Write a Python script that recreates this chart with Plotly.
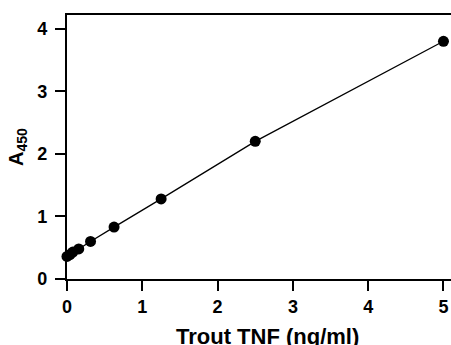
import plotly.graph_objects as go

conc = [0, 0.039, 0.078, 0.156, 0.3125, 0.625, 1.25, 2.5, 5]
a450 = [0.36, 0.39, 0.43, 0.48, 0.60, 0.83, 1.28, 2.20, 3.80]
x_ticks = [0, 1, 2, 3, 4, 5]
y_ticks = [0, 1, 2, 3, 4]
x_title = "Trout TNF (ng/ml)"

fam = "Liberation Sans"
tickfont = dict(family=fam, size=18, color="black", weight=700)
fig = go.Figure()
fig.add_trace(go.Scatter(
    x=conc, y=a450, mode="lines+markers",
    line=dict(color="black", width=1.3),
    marker=dict(color="black", size=11),
    cliponaxis=False, showlegend=False,
))
fig.update_layout(
    width=451, height=345,
    margin=dict(l=67, r=0, t=15, b=66),
    plot_bgcolor="white", paper_bgcolor="white",
    font=dict(family=fam, size=17, color="black"),
    xaxis=dict(range=[0, 5.1], tickvals=x_ticks,
               ticks="outside", ticklen=10, tickwidth=2, automargin=False,
               tickcolor="black", showline=True, linewidth=2.3, linecolor="black", mirror=True,
               showgrid=False, zeroline=False, tickfont=tickfont),
    yaxis=dict(range=[0, 4.22], tickvals=y_ticks, ticklabelstandoff=4,
               ticks="outside", ticklen=10, tickwidth=2, automargin=False,
               tickcolor="black", showline=True, linewidth=2.3, linecolor="black",
               showgrid=False, zeroline=False, tickfont=tickfont,
               title=dict(text="A<sub>450</sub>", font=dict(family=fam, size=20, weight=700), standoff=8)),
    annotations=[dict(text=x_title, xref="paper", yref="paper", x=0.521, y=0,
                      xanchor="center", yanchor="top", yshift=-43, showarrow=False,
                      font=dict(family=fam, size=22, weight=700, color="black"))],
)
fig.write_html("out.html", config={"displayModeBar": False},
               post_script="document.body.style.margin='0';document.body.style.overflow='hidden';")
